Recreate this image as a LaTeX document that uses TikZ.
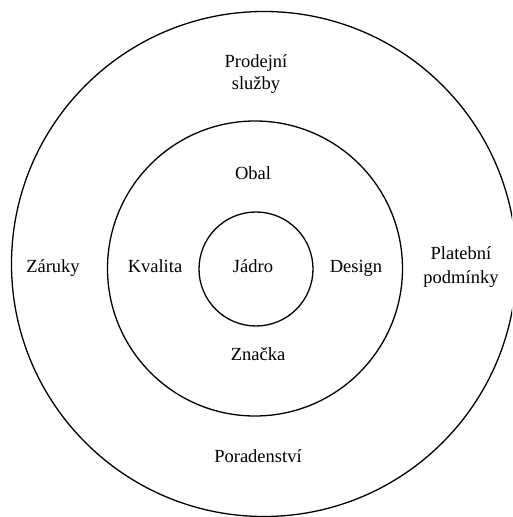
\documentclass[tikz,border=0pt]{standalone}
\usepackage{fontspec}
\setmainfont{Liberation Serif}
\tikzset{
  ring/.style={draw=black, line width=1.3pt, circle, inner sep=0pt},
  lbl/.style={anchor=base, inner sep=0pt, font=\fontsize{18.5}{22}\selectfont, align=center},
}
\begin{document}
\begin{tikzpicture}[x=1pt,y=1pt]
\useasboundingbox (0,0) rectangle (512,517);
\clip (0,0) rectangle (512,517);
\node[ring, minimum size=505pt] (outer) at (264,253) {};
\node[ring, minimum size=295pt] (middle) at (255,248.5) {};
\node[ring, minimum size=114pt] (inner) at (256,248) {};
\node[lbl] (prod1) at (256,517-67.7) {Prodejní};
\node[lbl] (prod2) at (256,517-90) {služby};
\node[lbl] (zaruky) at (53,517-272.7) {Záruky};
\node[lbl] (plat1) at (461,517-260) {Platební};
\node[lbl] (plat2) at (461,517-283.3) {podmínky};
\node[lbl] (obal) at (253,517-180) {Obal};
\node[lbl] (kval) at (155,517-272.7) {Kvalita};
\node[lbl] (jadro) at (253,517-272.7) {Jádro};
\node[lbl] (design) at (356,517-272.7) {Design};
\node[lbl] (znacka) at (258,517-361) {Značka};
\node[lbl] (porad) at (258,517-462.7) {Poradenství};
\end{tikzpicture}
\end{document}
